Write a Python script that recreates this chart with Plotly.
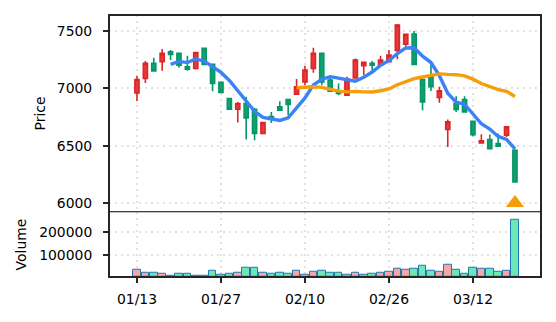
import plotly.graph_objects as go

dates = ["01/13","01/14","01/15","01/16","01/19","01/20","01/21","01/22","01/23","01/26",
         "01/27","01/28","01/29","01/30","02/02","02/03","02/04","02/05","02/06","02/09",
         "02/10","02/12","02/13","02/16","02/17","02/18","02/19","02/20","02/24","02/25",
         "02/26","02/27","03/02","03/03","03/04","03/05","03/06","03/09","03/10","03/11",
         "03/12","03/13","03/16","03/17","03/18","03/19"]
opens = [6961,7087,7218,7232,7319,7305,7188,7174,7349,7209,
         7052,6912,6818,6868,6818,6606,6755,6839,6903,6950,
         7057,7174,7305,7072,6970,6941,7092,7197,7218,7203,
         7232,7330,7386,7474,7078,7101,6921,6641,6868,6903,
         6714,6524,6554,6519,6591,6460]
highs = [7109,7238,7267,7343,7334,7310,7284,7318,7352,7215,
         7055,6915,6882,6926,6830,6705,6795,6888,6906,7081,
         7197,7354,7308,7090,7043,7101,7261,7230,7238,7284,
         7334,7561,7475,7500,7080,7203,7014,6728,6932,6932,
         6714,6600,6597,6606,6666,6470]
lows = [6891,7048,7153,7153,7247,7179,7153,7165,7205,6976,
        6964,6815,6702,6554,6548,6600,6699,6808,6766,6948,
        7028,7136,7028,6976,6941,6935,7085,7116,7159,7195,
        7225,7255,7363,7209,6810,6978,6874,6489,6795,6795,
        6583,6524,6475,6495,6577,6183]
closes = [7078,7218,7153,7305,7296,7203,7168,7313,7209,7043,
          6964,6818,6868,6743,6606,6702,6740,6810,6860,7014,
          7159,7305,7057,6976,6955,7081,7247,7227,7203,7247,
          7290,7552,7471,7209,6882,7014,6978,6708,6816,6795,
          6597,6542,6475,6495,6664,6183]
volumes = [32000,17600,19000,13000,7300,14600,14600,7300,7300,27800,
           10000,14600,19000,42500,42500,19000,13000,19000,14600,26000,
           11700,22000,27800,17500,17500,8800,19000,10000,14600,19000,
           23400,38000,32000,36600,49800,27800,22000,54000,32000,14600,
           42500,36600,36600,23400,27800,256000]
ma5 = [None]*4 + [7210.0,7235.0,7225.0,7257.0,7237.8,7187.2,7139.4,7069.4,6980.4,6887.2,
       6799.8,6747.4,6731.8,6720.2,6743.6,6825.2,6916.6,7029.6,7079.0,7102.2,
       7090.4,7074.8,7063.2,7097.2,7142.6,7201.0,7242.8,7303.8,7352.6,7353.8,
       7280.8,7225.6,7110.8,6958.2,6879.6,6862.2,6778.8,6691.6,6645.0,6580.8,
       6554.6,6471.8]
ma20 = [None]*19 + [7005.55,7009.6,7013.95,7009.15,6992.7,6975.65,6969.55,6973.5,6969.2,6968.9,
        6979.1,6995.4,7032.1,7062.25,7085.55,7099.35,7114.95,7126.85,7121.75,7119.55,
        7108.6,7080.5,7042.35,7013.25,6989.2,6974.65,6929.75]
signal_x = [45]
signal_y = [6000]
tick_idx = [0, 10, 20, 30, 40]

idx = list(range(len(dates)))
vol_colors = ["#fca5a5" if c >= o else "#6ee7b7" for o, c in zip(opens, closes)]

RED_LINE, RED_FILL = "#dc2626", "#e5393b"
GRN_LINE, GRN_FILL = "#059669", "#12a070"

fig = go.Figure()
fig.add_trace(go.Candlestick(
    x=idx, open=opens, high=highs, low=lows, close=closes,
    increasing=dict(line=dict(color=RED_LINE, width=1.6), fillcolor=RED_FILL),
    decreasing=dict(line=dict(color=GRN_LINE, width=1.6), fillcolor=GRN_FILL),
    whiskerwidth=0, showlegend=False, xaxis="x", yaxis="y"))
fig.add_trace(go.Scatter(x=idx, y=ma5, mode="lines", line=dict(color="#3b82f6", width=3.4),
                         showlegend=False, xaxis="x", yaxis="y"))
fig.add_trace(go.Scatter(x=idx, y=ma20, mode="lines", line=dict(color="#f59e0b", width=3.4),
                         showlegend=False, xaxis="x", yaxis="y"))
fig.add_trace(go.Scatter(x=signal_x, y=signal_y, mode="markers",
                         marker=dict(symbol="triangle-up", size=16, color="#f59e0b"),
                         showlegend=False, xaxis="x", yaxis="y"))
fig.add_trace(go.Bar(x=idx, y=volumes, width=0.9,
                     marker=dict(color=vol_colors, line=dict(color="#1f77b4", width=1)),
                     showlegend=False, xaxis="x", yaxis="y2"))

split = 0.249
grid = dict(showgrid=True, gridcolor="#e2e2e2", griddash="2px,4px", gridwidth=1.6, zeroline=False)
tickstyle = dict(ticks="outside", ticklen=5, tickwidth=1.5, tickcolor="#262626",
                 tickfont=dict(family="DejaVu Sans", size=13.9, color="#000000"))

fig.update_layout(
    width=556, height=322,
    margin=dict(l=109, r=15, t=15, b=45),
    paper_bgcolor="white", plot_bgcolor="white",
    bargap=0, boxgap=0.3,
    xaxis=dict(domain=[0, 1], anchor="y2", range=[-3.33, 48.1],
               tickvals=tick_idx, ticktext=[dates[i] for i in tick_idx],
               rangeslider=dict(visible=False), showline=False,
               ticklabelstandoff=4, **grid, **tickstyle),
    yaxis=dict(domain=[split, 1], anchor="x", range=[5924, 7640],
               tickvals=[6000, 6500, 7000, 7500], ticktext=["6000", "6500", "7000", "7500"],
               showline=False, ticklabelstandoff=8, **grid, **tickstyle),
    yaxis2=dict(domain=[0, split], anchor="x", range=[0, 292000],
                tickvals=[100000, 200000], ticktext=["100000", "200000"],
                showline=False, ticklabelstandoff=8, **grid, **tickstyle),
    shapes=[
        dict(type="rect", xref="paper", yref="paper", x0=0, x1=1, y0=0, y1=1,
             line=dict(color="#262626", width=2), layer="above"),
        dict(type="line", xref="paper", yref="paper", x0=0, x1=1, y0=split, y1=split,
             line=dict(color="#000000", width=1.2), layer="above"),
    ],
    annotations=[
        dict(text="Price", xref="paper", yref="paper", x=(40 - 109) / 432, y=(split + 1) / 2,
             textangle=-90, showarrow=False, xanchor="center", yanchor="middle",
             font=dict(family="DejaVu Sans", size=13.9, color="#000000")),
        dict(text="Volume", xref="paper", yref="paper", x=(21 - 109) / 432, y=split / 2,
             textangle=-90, showarrow=False, xanchor="center", yanchor="middle",
             font=dict(family="DejaVu Sans", size=13.9, color="#000000")),
    ],
)

fig.write_html("out.html")
